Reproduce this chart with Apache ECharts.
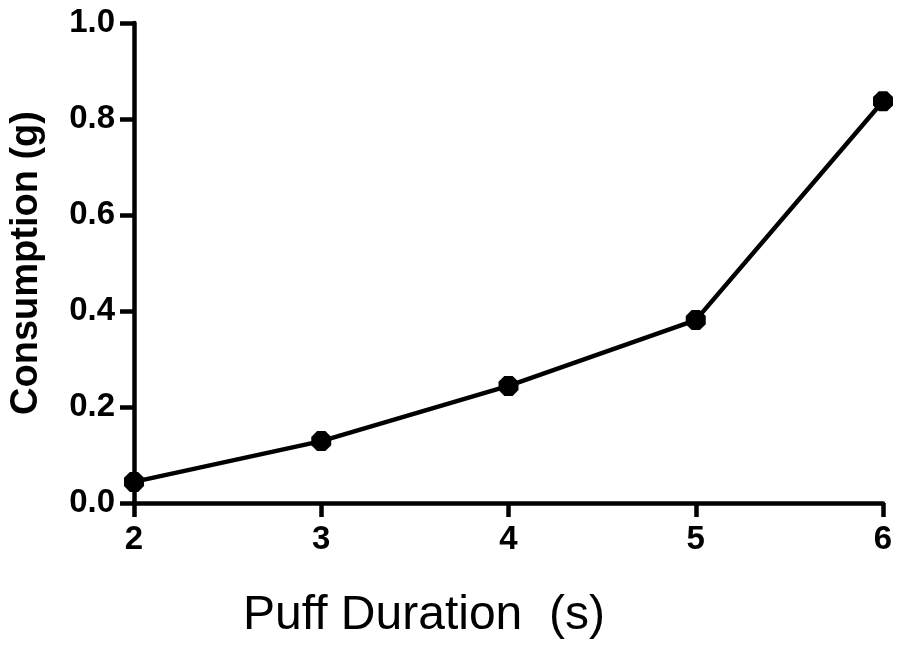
<!DOCTYPE html>
<html>
<head>
<meta charset="utf-8">
<script src="https://cdn.jsdelivr.net/npm/echarts@6/dist/echarts.min.js"></script>
<style>
html,body{margin:0;padding:0;background:#fff;}
#chart{width:900px;height:658px;}
</style>
</head>
<body>
<div id="chart"></div>
<script>
const puffDuration = [2, 3, 4, 5, 6];
const consumption = [0.044, 0.129, 0.244, 0.381, 0.837];
const xTitle = 'Puff Duration  (s)';
const yTitle = 'Consumption (g)';

const chart = echarts.init(document.getElementById('chart'));
const octagon = 'path://M-0.414,-1L0.414,-1L1,-0.414L1,0.414L0.414,1L-0.414,1L-1,0.414L-1,-0.414Z';
chart.setOption({
  animation: false,
  backgroundColor: '#ffffff',
  title: {
    text: xTitle,
    left: 238,
    top: 587,
    textStyle: { fontFamily: 'Liberation Sans', fontWeight: 'normal', fontSize: 48, color: '#000' }
  },
  grid: { left: 127, right: 17, top: 23, bottom: 155, containLabel: false },
  xAxis: {
    type: 'value', min: 2, max: 6, interval: 1,
    splitLine: { show: false },
    axisLine: { lineStyle: { color: '#000', width: 4.5 } },
    axisTick: { length: 14, lineStyle: { color: '#000', width: 4.5 } },
    axisLabel: { margin: 20, color: '#000', fontFamily: 'Liberation Sans', fontWeight: 'bold', fontSize: 33 }
  },
  yAxis: {
    type: 'value', min: 0, max: 1, interval: 0.2,
    name: yTitle, nameLocation: 'middle', nameGap: 88, nameRotate: 90,
    nameTextStyle: { fontFamily: 'Liberation Sans', fontWeight: 'bold', fontSize: 38, color: '#000' },
    splitLine: { show: false },
    axisLine: { lineStyle: { color: '#000', width: 4.5 } },
    axisTick: { length: 14, lineStyle: { color: '#000', width: 4.5 } },
    axisLabel: { margin: 19, color: '#000', fontFamily: 'Liberation Sans', fontWeight: 'bold', fontSize: 33,
      formatter: v => v.toFixed(1) }
  },
  series: [{
    type: 'line',
    data: puffDuration.map((x, i) => [x, consumption[i]]),
    symbol: octagon,
    symbolSize: 20,
    lineStyle: { color: '#000', width: 4.5 },
    itemStyle: { color: '#000', borderWidth: 0 },
    clip: false
  }]
});
</script>
</body>
</html>
